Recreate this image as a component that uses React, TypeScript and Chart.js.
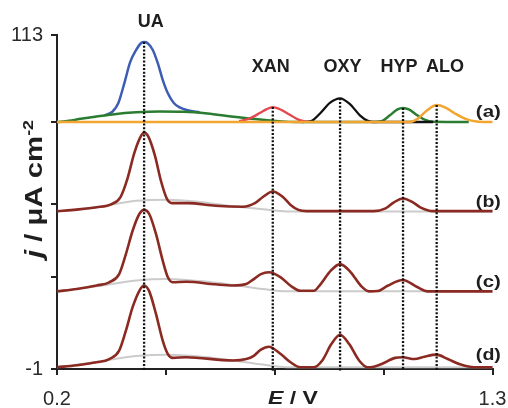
import React, { useEffect, useRef } from 'react';
import { Chart, registerables } from 'chart.js';

Chart.register(...registerables);

// ---------- axes ----------
const X_TICKS = [0.2, 0.475, 0.75, 1.025, 1.3];
const X_TICK_LABELS = ['0.2', '', '', '', '1.3'];
const Y_TICKS = [-1, 30.4, 55.3, 83.4, 113];
const Y_TICK_LABELS = ['-1', '', '', '', '113'];

// ---------- peak annotations ----------
const PEAK_NAMES = ['UA', 'XAN', 'OXY', 'HYP', 'ALO'];
const PEAK_X = [0.42, 0.745, 0.915, 1.074, 1.159];
const PEAK_TOP = [110.6, 88.4, 91.4, 88.1, 89.1];
const PEAK_LABEL_X = [0.437, 0.74, 0.921, 1.064, 1.18];
const PEAK_LABEL_Y = [117.4, 102.2, 102.2, 102.2, 102.2];

const TRACE_NAMES = ['(a)', '(b)', '(c)', '(d)'];
const TRACE_LABEL_X = [1.258, 1.258, 1.258, 1.258];
const TRACE_LABEL_Y = [86.7, 56.0, 28.7, 3.8];

// ---------- trace (a): individual analytes ----------
const A_UA_X = [0.32, 0.34, 0.355, 0.37, 0.385, 0.4, 0.412, 0.42, 0.429, 0.442, 0.455, 0.467, 0.48, 0.495, 0.51, 0.53, 0.56];
const A_UA_Y = [85.6, 86.8, 89.8, 96.5, 103.8, 107.9, 110.2, 110.6, 110.2, 107.9, 103.2, 97.7, 93.1, 89.8, 88.3, 87.3, 86.6];

const A_GREEN_X = [0.2, 0.23, 0.26, 0.3, 0.34, 0.4, 0.46, 0.52, 0.58, 0.64, 0.7, 0.76, 0.8, 1.0, 1.02, 1.04, 1.06, 1.074, 1.09, 1.11, 1.13, 1.15, 1.24];
const A_GREEN_Y = [83.3, 83.7, 84.4, 85.2, 85.9, 86.6, 86.9, 86.8, 86.2, 85.2, 84.3, 83.6, 83.3, 83.3, 83.6, 85.5, 87.6, 88.1, 87.5, 85.6, 84.0, 83.4, 83.3];

const A_XAN_X = [0.66, 0.68, 0.7, 0.72, 0.745, 0.77, 0.79, 0.81, 0.83];
const A_XAN_Y = [83.6, 84.2, 85.4, 87.0, 88.4, 87.2, 85.6, 84.1, 83.4];

const A_OXY_X = [0.82, 0.84, 0.865, 0.89, 0.915, 0.94, 0.965, 0.985, 1.0, 1.15];
const A_OXY_Y = [83.3, 83.5, 86.3, 89.9, 91.4, 89.4, 85.6, 83.7, 83.3, 83.3];

const A_ALO_X = [0.2, 1.09, 1.11, 1.135, 1.159, 1.18, 1.205, 1.235, 1.26, 1.3];
const A_ALO_Y = [83.3, 83.3, 84.3, 87.3, 89.1, 88.3, 86.2, 84.2, 83.5, 83.3];

// ---------- traces (b), (c), (d) ----------
const B_X = [0.2, 0.25, 0.3, 0.335, 0.36, 0.378, 0.395, 0.41, 0.42, 0.431, 0.447, 0.463, 0.478, 0.492, 0.53, 0.6, 0.67, 0.7, 0.72, 0.745, 0.77, 0.79, 0.81, 0.83, 1.0, 1.03, 1.05, 1.074, 1.1, 1.12, 1.15, 1.3];
const B_Y = [52.8, 53.4, 54.2, 55.1, 57.6, 64.0, 72.6, 78.0, 79.7, 78.2, 72.0, 63.0, 57.0, 55.6, 55.6, 54.7, 54.4, 55.6, 57.7, 59.6, 57.8, 55.0, 53.3, 52.9, 52.9, 53.8, 55.8, 57.2, 55.8, 54.0, 52.9, 52.9];

const C_X = [0.2, 0.25, 0.3, 0.332, 0.357, 0.374, 0.391, 0.408, 0.42, 0.433, 0.45, 0.467, 0.48, 0.492, 0.526, 0.6, 0.644, 0.678, 0.697, 0.715, 0.735, 0.765, 0.79, 0.815, 0.849, 0.866, 0.891, 0.915, 0.942, 0.967, 0.988, 1.01, 1.035, 1.073, 1.111, 1.136, 1.3];
const C_Y = [25.5, 26.3, 27.5, 28.6, 31.4, 38.2, 46.2, 51.9, 53.3, 51.9, 45.1, 36.0, 30.3, 28.6, 28.8, 27.9, 27.5, 28.0, 29.7, 31.4, 32.0, 30.3, 27.4, 25.7, 25.7, 28.0, 32.5, 34.8, 32.0, 27.5, 25.5, 25.6, 27.4, 29.4, 26.9, 25.5, 25.5];

const D_X = [0.2, 0.25, 0.3, 0.332, 0.357, 0.374, 0.391, 0.408, 0.42, 0.433, 0.45, 0.467, 0.48, 0.492, 0.526, 0.644, 0.678, 0.697, 0.715, 0.735, 0.765, 0.79, 0.815, 0.849, 0.87, 0.893, 0.915, 0.938, 0.963, 0.984, 1.0, 1.02, 1.054, 1.073, 1.103, 1.128, 1.159, 1.187, 1.22, 1.254, 1.3];
const D_Y = [-0.4, 0.3, 1.3, 2.4, 5.3, 12.1, 20.1, 25.7, 27.5, 25.5, 17.8, 8.7, 4.1, 2.8, 3.0, 1.9, 2.4, 3.5, 5.6, 6.6, 4.1, 1.3, -0.4, -0.4, 1.9, 7.5, 10.7, 7.5, 1.9, -0.4, -0.2, 0.7, 2.8, 3.0, 2.4, 3.2, 3.9, 2.4, 0.5, -0.4, -0.4];

// ---------- grey background curves ----------
const G_X = [0.2, 0.3, 0.4, 0.48, 0.56, 0.64, 0.72, 0.78, 1.3];
const GB_Y = [52.8, 54.2, 56.4, 56.8, 56.0, 54.6, 53.5, 52.8, 52.8];
const GC_Y = [25.5, 27.2, 29.2, 29.7, 29.0, 27.8, 26.3, 25.5, 25.5];
const GD_Y = [-0.4, 1.4, 3.4, 3.9, 3.3, 2.0, 0.5, -0.4, -0.4];

const FONT = "'Liberation Sans', Arial, Helvetica, sans-serif";
const INK = '#1e1e1e';

const zip = (xs: number[], ys: number[]) => xs.map((x, i) => ({ x, y: ys[i] }));

type Seg = { text: string; font: string; dy?: number };

function drawSegs(ctx: CanvasRenderingContext2D, segs: Seg[], x: number, y: number, targetW: number, align: 'center' | 'left') {
  let total = 0;
  const widths = segs.map((s) => {
    ctx.font = s.font;
    const w = ctx.measureText(s.text).width;
    total += w;
    return w;
  });
  const sx = targetW > 0 ? targetW / total : 1;
  ctx.save();
  ctx.translate(x, y);
  ctx.scale(sx, 1);
  let cx = align === 'center' ? -total / 2 : 0;
  segs.forEach((s, i) => {
    ctx.font = s.font;
    ctx.textAlign = 'left';
    ctx.fillText(s.text, cx, s.dy || 0);
    cx += widths[i];
  });
  ctx.restore();
}

const textPlugin = {
  id: 'texts',
  afterDraw(chart: any) {
    const ctx: CanvasRenderingContext2D = chart.ctx;
    const xs = chart.scales.x;
    const ys = chart.scales.y;
    ctx.save();
    ctx.fillStyle = INK;
    ctx.textBaseline = 'middle';
    PEAK_NAMES.forEach((n, i) => {
      drawSegs(ctx, [{ text: n, font: `bold 18px ${FONT}` }], xs.getPixelForValue(PEAK_LABEL_X[i]), ys.getPixelForValue(PEAK_LABEL_Y[i]), 0, 'center');
    });
    TRACE_NAMES.forEach((n, i) => {
      drawSegs(ctx, [{ text: n, font: `bold 17px ${FONT}` }], xs.getPixelForValue(TRACE_LABEL_X[i]), ys.getPixelForValue(TRACE_LABEL_Y[i]), 25, 'left');
    });
    drawSegs(
      ctx,
      [
        { text: 'E', font: `italic bold 18px ${FONT}` },
        { text: ' / V', font: `bold 18px ${FONT}` },
      ],
      293,
      399,
      50,
      'center'
    );
    ctx.textBaseline = 'alphabetic';
    ctx.save();
    ctx.translate(42, 189);
    ctx.rotate(-Math.PI / 2);
    drawSegs(
      ctx,
      [
        { text: 'j', font: `italic bold 23px ${FONT}` },
        { text: ' / ', font: `bold 23px ${FONT}` },
        { text: 'μA cm', font: `bold 23px ${FONT}` },
        { text: '-2', font: `bold 14px ${FONT}`, dy: -9 },
      ],
      0,
      0,
      138,
      'center'
    );
    ctx.restore();
    ctx.restore();
  },
};

export default function App() {
  const ref = useRef<HTMLCanvasElement | null>(null);

  useEffect(() => {
    if (!ref.current) return;
    const line = (data: { x: number; y: number }[], color: string, width: number, order: number) => ({
      data,
      borderColor: color,
      borderWidth: width,
      pointRadius: 0,
      fill: false,
      cubicInterpolationMode: 'monotone' as const,
      order,
      clip: 4,
    });
    const brown = '#8a2a22';
    const grey = '#cbcbcb';
    const dotted = PEAK_X.map((x, i) => ({
      data: [
        { x, y: PEAK_TOP[i] },
        { x, y: -1.6 },
      ],
      borderColor: '#111',
      borderWidth: 2.3,
      borderDash: [2, 1.7],
      borderCapStyle: 'butt' as const,
      pointRadius: 0,
      fill: false,
      tension: 0,
      order: 0,
      clip: false as const,
    }));

    const chart = new Chart(ref.current, {
      type: 'line',
      data: {
        datasets: [
          ...dotted,
          line(zip(A_ALO_X, A_ALO_Y), '#f2a530', 2.5, 1),
          line(zip(A_XAN_X, A_XAN_Y), '#e4474d', 2.3, 2),
          line(zip(A_OXY_X, A_OXY_Y), '#111111', 2.3, 3),
          line(zip(A_GREEN_X, A_GREEN_Y), '#2a7d30', 2.5, 4),
          line(zip(A_UA_X, A_UA_Y), '#3c5db3', 2.5, 5),
          line(zip(B_X, B_Y), brown, 2.6, 6),
          line(zip(C_X, C_Y), brown, 2.6, 6),
          line(zip(D_X, D_Y), brown, 2.6, 6),
          line(zip(G_X, GB_Y), grey, 2, 7),
          line(zip(G_X, GC_Y), grey, 2, 7),
          line(zip(G_X, GD_Y), grey, 2, 7),
        ] as any,
      },
      options: {
        responsive: false,
        maintainAspectRatio: false,
        devicePixelRatio: 1,
        animation: false,
        events: [],
        layout: { padding: { top: 35, right: 15.5, left: 0, bottom: 0 } },
        plugins: {
          legend: { display: false },
          tooltip: { enabled: false },
          title: { display: false },
        },
        scales: {
          x: {
            type: 'linear',
            min: 0.2,
            max: 1.3,
            afterBuildTicks: (s: any) => {
              s.ticks = X_TICKS.map((v) => ({ value: v }));
            },
            afterFit: (s: any) => {
              s.height = 39;
              s.paddingLeft = 0;
              s.paddingRight = 0;
            },
            ticks: {
              autoSkip: false,
              maxRotation: 0,
              padding: 12,
              color: '#2a2a2a',
              font: { size: 20, family: FONT },
              callback: (_v: any, i: number) => X_TICK_LABELS[i],
            },
            grid: { drawOnChartArea: false, drawTicks: true, tickLength: 6, color: '#222', lineWidth: 2 },
            border: { display: true, color: '#222', width: 2 },
          },
          y: {
            type: 'linear',
            min: -1,
            max: 113,
            afterBuildTicks: (s: any) => {
              s.ticks = Y_TICKS.map((v) => ({ value: v }));
            },
            afterFit: (s: any) => {
              s.width = 57;
              s.paddingTop = 0;
              s.paddingBottom = 0;
            },
            ticks: {
              autoSkip: false,
              padding: 8,
              color: '#2a2a2a',
              font: { size: 20, family: FONT },
              callback: (_v: any, i: number) => Y_TICK_LABELS[i],
            },
            grid: { drawOnChartArea: false, drawTicks: true, tickLength: 6, color: '#222', lineWidth: 2 },
            border: { display: true, color: '#222', width: 2 },
          },
        },
      } as any,
      plugins: [textPlugin],
    });
    return () => chart.destroy();
  }, []);

  return (
    <div style={{ position: 'absolute', left: 0, top: 0, width: 508, height: 408, background: '#fff' }}>
      <canvas ref={ref} width={508} height={408} style={{ display: 'block', width: 508, height: 408 }} />
    </div>
  );
}
